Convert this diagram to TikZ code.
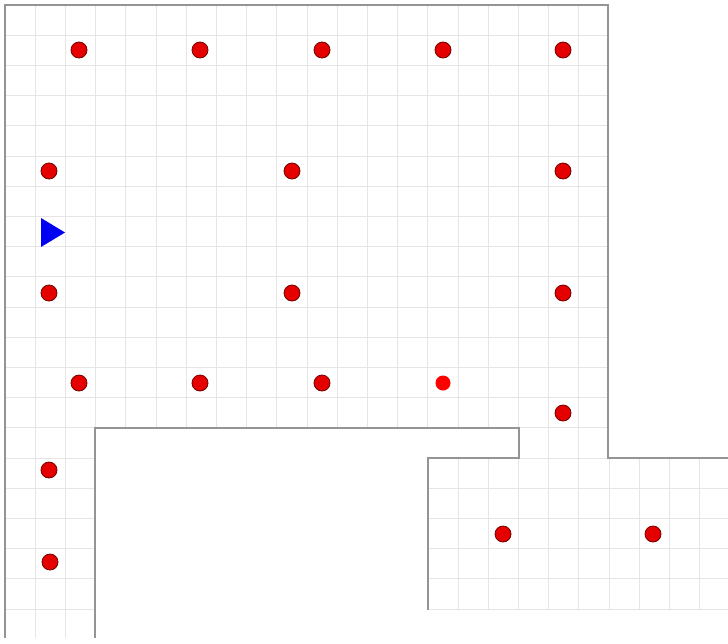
\documentclass[tikz,border=0pt]{standalone}
\begin{document}
\begin{tikzpicture}[x=1pt,y=-1pt,
  gridline/.style={draw=black!10,line width=0.7pt},
  wall/.style={draw=black!42,line width=1.6pt},
  target/.style={circle,fill=red!90!black,draw=red!45!black,line width=0.8pt,minimum size=16pt,inner sep=0pt},
  softtarget/.style={circle,fill=red,draw=none,minimum size=15pt,inner sep=0pt},
  marker/.style={fill=blue!95!black,draw=none}]
\useasboundingbox (0,0) rectangle (728,643);
\fill[white] (0,0) rectangle (728,643);
% grid, clipped to the floor area
\begin{scope}
  \clip (5,5) -- (608,5) -- (608,458) -- (728,458) -- (728,610) -- (428,610)
        -- (428,458) -- (519,458) -- (519,428) -- (95,428) -- (95,638) -- (5,638) -- cycle;
  \foreach \k in {0,...,24} {
    \draw[gridline] ({5+30.2*\k},0) -- ({5+30.2*\k},643);
  }
  \foreach \k in {0,...,21} {
    \draw[gridline] (0,{5+30.2*\k}) -- (728,{5+30.2*\k});
  }
\end{scope}
% walls
\draw[wall] (5,638) -- (5,5) -- (608,5) -- (608,458) -- (728,458);
\draw[wall] (95,638) -- (95,428) -- (519,428) -- (519,458) -- (428,458) -- (428,610);
% targets
\node[target] (a1) at (79,50) {};
\node[target] (a2) at (200,50) {};
\node[target] (a3) at (322,50) {};
\node[target] (a4) at (443,50) {};
\node[target] (a5) at (563,50) {};
\node[target] (b1) at (49,171) {};
\node[target] (b2) at (292,171) {};
\node[target] (b3) at (563,171) {};
\node[target] (c1) at (49,293) {};
\node[target] (c2) at (292,293) {};
\node[target] (c3) at (563,293) {};
\node[target] (d1) at (79,383) {};
\node[target] (d2) at (200,383) {};
\node[target] (d3) at (322,383) {};
\node[softtarget] (d4) at (443,383) {};
\node[target] (d5) at (563,413) {};
\node[target] (e1) at (49,470) {};
\node[target] (e2) at (50,562) {};
\node[target] (f1) at (503,534) {};
\node[target] (f2) at (653,534) {};
% start marker
\fill[marker] (41,218) -- (65,232.5) -- (41,247) -- cycle;
\end{tikzpicture}
\end{document}
